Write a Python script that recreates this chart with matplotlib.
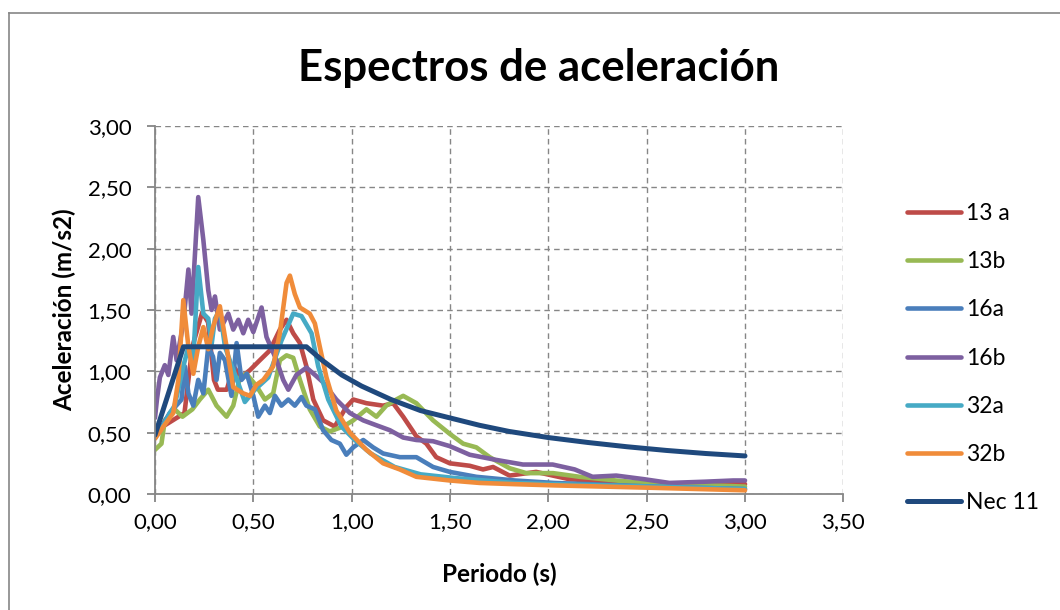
import matplotlib
matplotlib.use("Agg")
import matplotlib.pyplot as plt
from matplotlib.lines import Line2D
from matplotlib.ticker import FuncFormatter, MultipleLocator

plt.rcParams['font.family'] = ['Lato', 'DejaVu Sans']

# periodo (s) / aceleracion (m/s2) por registro
t_13a = [0, 0.04, 0.09, 0.15, 0.19, 0.24, 0.27, 0.30, 0.32, 0.365, 0.40, 0.437, 0.483, 0.533,
         0.584, 0.635, 0.669, 0.703, 0.737, 0.77, 0.805, 0.855, 0.914, 0.973, 1.008, 1.075,
         1.16, 1.211, 1.262, 1.329, 1.38, 1.43, 1.499, 1.6, 1.668, 1.719, 1.803, 1.938, 2.108,
         2.447, 2.74, 3.0]
a_13a = [0.50, 0.55, 0.60, 0.66, 1.20, 1.48, 1.40, 0.93, 0.85, 0.85, 1.04, 0.95, 1.01, 1.09,
         1.17, 1.34, 1.42, 1.31, 1.23, 1.04, 0.77, 0.60, 0.55, 0.71, 0.77, 0.74,
         0.72, 0.74, 0.63, 0.47, 0.41, 0.30, 0.25, 0.23, 0.20, 0.22, 0.15, 0.18, 0.12,
         0.09, 0.08, 0.08]

t_13b = [0, 0.033, 0.05, 0.1, 0.14, 0.19, 0.228, 0.271, 0.313, 0.364, 0.398, 0.432, 0.465,
         0.516, 0.559, 0.601, 0.635, 0.669, 0.703, 0.737, 0.787, 0.838, 0.889, 0.957, 1.008,
         1.075, 1.126, 1.176, 1.227, 1.262, 1.329, 1.414, 1.499, 1.567, 1.634, 1.702, 1.803,
         1.888, 2.024, 2.159, 2.345, 2.616, 2.84, 3.0]
a_13b = [0.36, 0.41, 0.60, 0.69, 0.63, 0.69, 0.77, 0.85, 0.72, 0.63, 0.72, 0.95, 0.98,
         0.88, 0.77, 0.82, 1.09, 1.13, 1.11, 0.93, 0.69, 0.55, 0.51, 0.55, 0.60,
         0.69, 0.63, 0.72, 0.77, 0.80, 0.74, 0.60, 0.49, 0.41, 0.38, 0.30, 0.21,
         0.17, 0.17, 0.14, 0.11, 0.07, 0.07, 0.06]

t_16a = [0, 0.075, 0.135, 0.152, 0.17, 0.195, 0.22, 0.246, 0.271, 0.295, 0.313, 0.33, 0.356,
         0.389, 0.415, 0.44, 0.467, 0.5, 0.525, 0.559, 0.584, 0.61, 0.643, 0.678, 0.711,
         0.745, 0.77, 0.813, 0.855, 0.897, 0.94, 0.973, 1.008, 1.059, 1.109, 1.16, 1.245,
         1.329, 1.414, 1.499, 1.634, 1.83, 2.03, 2.54, 3.0]
a_16a = [0.46, 0.66, 0.77, 1.04, 0.82, 0.72, 0.93, 0.82, 1.20, 1.12, 0.93, 1.15, 1.09,
         0.80, 1.23, 0.93, 0.98, 0.80, 0.63, 0.72, 0.66, 0.80, 0.72, 0.77, 0.72,
         0.79, 0.72, 0.69, 0.52, 0.44, 0.41, 0.32, 0.38, 0.44, 0.38, 0.33, 0.30,
         0.30, 0.22, 0.18, 0.14, 0.11, 0.09, 0.06, 0.04]

t_16b = [0, 0.01, 0.025, 0.05, 0.068, 0.093, 0.11, 0.144, 0.17, 0.186, 0.22, 0.246, 0.271,
         0.288, 0.305, 0.33, 0.373, 0.398, 0.424, 0.449, 0.474, 0.5, 0.542, 0.567, 0.618,
         0.652, 0.678, 0.719, 0.77, 0.821, 0.855, 0.922, 0.991, 1.059, 1.126, 1.194, 1.262,
         1.329, 1.414, 1.499, 1.6, 1.727, 1.871, 2.022, 2.134, 2.225, 2.345, 2.489, 2.616,
         2.794, 2.94, 3.0]
a_16b = [0.62, 0.77, 0.95, 1.05, 0.97, 1.28, 1.09, 1.39, 1.83, 1.47, 2.42, 2.07, 1.66,
         1.50, 1.61, 1.34, 1.47, 1.34, 1.42, 1.31, 1.42, 1.32, 1.52, 1.28, 1.09,
         0.93, 0.85, 0.97, 1.03, 0.96, 0.91, 0.77, 0.66, 0.60, 0.56, 0.52, 0.46,
         0.44, 0.43, 0.39, 0.32, 0.28, 0.24, 0.24, 0.20, 0.14, 0.15, 0.12, 0.09,
         0.10, 0.11, 0.11]

t_32a = [0, 0.04, 0.076, 0.1, 0.144, 0.17, 0.193, 0.22, 0.246, 0.271, 0.288, 0.305, 0.33,
         0.356, 0.389, 0.424, 0.457, 0.508, 0.576, 0.643, 0.703, 0.745, 0.796, 0.83, 0.881,
         0.948, 1.016, 1.097, 1.219, 1.351, 1.524, 1.676, 1.829, 2.032, 2.54, 3.0]
a_32a = [0.46, 0.55, 0.66, 0.72, 1.04, 1.20, 1.05, 1.85, 1.47, 1.43, 1.22, 1.43, 1.50,
         1.20, 1.05, 0.90, 0.75, 0.85, 0.95, 1.25, 1.47, 1.45, 1.31, 1.04, 0.77,
         0.55, 0.44, 0.33, 0.22, 0.16, 0.13, 0.11, 0.09, 0.08, 0.06, 0.04]

t_32b = [0, 0.043, 0.093, 0.119, 0.144, 0.17, 0.195, 0.22, 0.246, 0.271, 0.295, 0.33, 0.364,
         0.398, 0.449, 0.483, 0.516, 0.551, 0.601, 0.635, 0.669, 0.686, 0.711, 0.737, 0.787,
         0.813, 0.838, 0.872, 0.922, 0.991, 1.075, 1.16, 1.245, 1.329, 1.499, 1.651, 1.829,
         2.032, 2.54, 3.0]
a_32b = [0.45, 0.55, 0.66, 0.93, 1.58, 1.20, 0.98, 1.20, 1.36, 1.18, 1.36, 1.53, 1.20,
         0.87, 0.82, 0.80, 0.89, 0.93, 1.04, 1.31, 1.72, 1.78, 1.63, 1.52, 1.47,
         1.39, 1.20, 0.95, 0.68, 0.50, 0.36, 0.25, 0.20, 0.14, 0.11, 0.09, 0.08,
         0.07, 0.05, 0.03]

# espectro de diseño NEC 11
t_nec = [0, 0.145, 0.77, 0.85, 0.95, 1.05, 1.2, 1.35, 1.5, 1.65, 1.8, 2.0, 2.2, 2.4, 2.6, 2.8, 3.0]
a_nec = [0.48, 1.20, 1.20, 1.09, 0.97, 0.88, 0.77, 0.68, 0.62, 0.56, 0.51, 0.46, 0.42, 0.385,
         0.355, 0.33, 0.31]

series = [
    ('13 a', t_13a, a_13a, '#BE4B48'),
    ('13b', t_13b, a_13b, '#98B954'),
    ('16a', t_16a, a_16a, '#4A7EBB'),
    ('16b', t_16b, a_16b, '#7D60A0'),
    ('32a', t_32a, a_32a, '#46AAC5'),
    ('32b', t_32b, a_32b, '#F08C3A'),
    ('Nec 11', t_nec, a_nec, '#1F497D'),
]

fig = plt.figure(figsize=(10.6, 6.1), dpi=100)
ax = fig.add_axes([0.1462, 0.1902, 0.6494, 0.6033])

for name, t, a, col in series:
    lw = 3.6 if name == 'Nec 11' else 3.3
    ax.plot(t, a, color=col, lw=lw, label=name,
            solid_joinstyle='round', solid_capstyle='round')

ax.set_xlim(0, 3.5)
ax.set_ylim(0, 3.0)
ax.xaxis.set_major_locator(MultipleLocator(0.5))
ax.yaxis.set_major_locator(MultipleLocator(0.5))
fmt = FuncFormatter(lambda v, p: f'{v:.2f}'.replace('.', ','))
ax.xaxis.set_major_formatter(fmt)
ax.yaxis.set_major_formatter(fmt)

gray = '#868686'
ax.grid(True, color=gray, ls=(0, (4, 3)), lw=1.0)
ax.set_axisbelow(True)
for s in ['top', 'right']:
    ax.spines[s].set_visible(False)
for s in ['left', 'bottom']:
    ax.spines[s].set_color(gray)
    ax.spines[s].set_linewidth(1.3)
ax.tick_params(direction='out', length=6, width=1.3, color=gray, labelsize=16)
ax.tick_params(axis='x', pad=7)
ax.tick_params(axis='y', pad=11)

ax.set_xlabel('Periodo (s)', fontsize=17.5, fontweight='bold')
ax.set_ylabel('Aceleración (m/s2)', fontsize=17.5, fontweight='bold')
ax.xaxis.set_label_coords(0.5, -0.187)
ax.yaxis.set_label_coords(-0.115, 0.5)
fig.text(0.5085, 0.888, 'Espectros de aceleración', ha='center', va='center',
         fontsize=31.5, fontweight='bold')

leg = fig.legend(loc='center left', bbox_to_anchor=(0.856, 0.413), frameon=False,
                 fontsize=16.5, handlelength=2.36, handletextpad=0.22, labelspacing=1.19,
                 borderpad=0, borderaxespad=0)

# marco exterior del grafico
fig.add_artist(Line2D([0.0085, 0.0085], [0, 0.9787], transform=fig.transFigure,
                      color=gray, lw=1.2))
fig.add_artist(Line2D([0.0085, 1], [0.9787, 0.9787], transform=fig.transFigure,
                      color=gray, lw=1.2))

fig.savefig('out.png', dpi=100)
